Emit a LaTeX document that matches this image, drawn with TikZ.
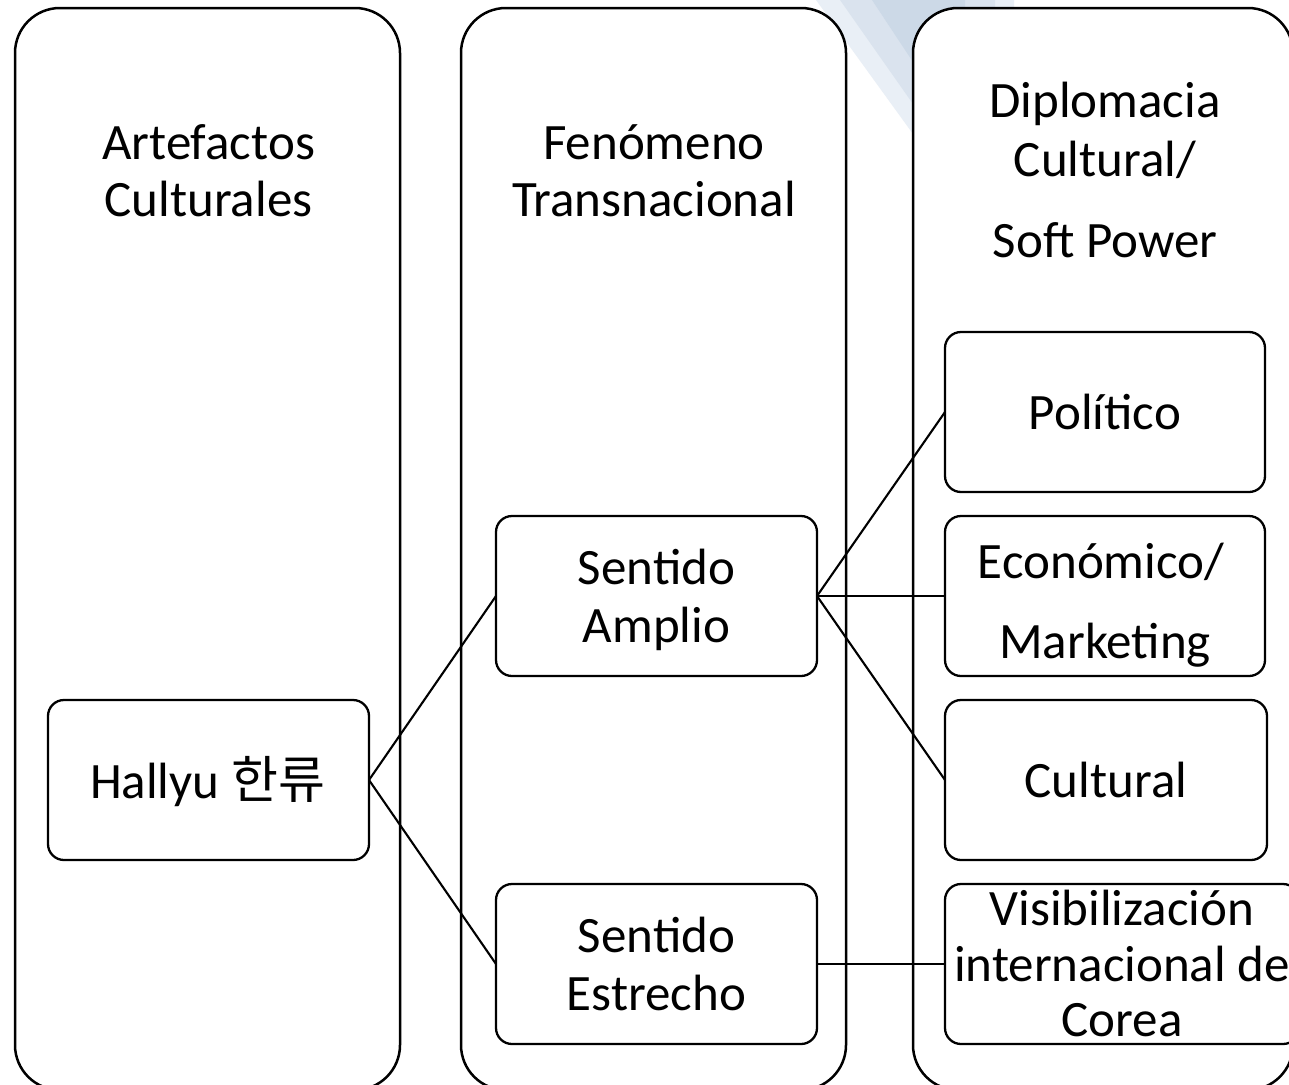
\documentclass[tikz,border=0pt]{standalone}
\usepackage{fontspec}
\setmainfont{Carlito}
\newfontfamily\krfont{Noto Sans CJK KR}
\definecolor{bgA}{HTML}{E9EFF6}
\definecolor{bgB}{HTML}{DAE3EE}
\definecolor{bgC}{HTML}{CCD9E7}
\begin{document}
\begin{tikzpicture}[x=1pt,y=-1pt,
 colbox/.style={draw=black, line width=2.5pt, fill=white, rounded corners=45pt, minimum width=385pt, minimum height=1082pt, inner sep=0pt, outer sep=0pt},
 itembox/.style={draw=black, line width=2.3pt, fill=white, rounded corners=16pt, minimum width=321pt, minimum height=160pt, inner sep=0pt, outer sep=0pt},
 txt/.style={anchor=base, inner sep=0pt, font=\fontsize{51}{57}\selectfont},
 link/.style={draw=black, line width=2.1pt}]
\useasboundingbox (0,0) rectangle (1289,1084);
\clip (0,0) rectangle (1289,1084);
\fill[white] (0,0) rectangle (1289,1084);
% background swoosh
\fill[bgA] (816,0) -- (1014,0) -- (1014,230) -- (913,134) -- cycle;
\fill[bgB] (840,0) -- (995,0) -- (995,210) -- (913,104) -- cycle;
\fill[bgC] (872,0) -- (965,0) -- (965,150) -- (913,62) -- cycle;
% columns
\node[colbox] (c1) at (207.5,549) {};
\node[colbox] (c2) at (653.5,549) {};
\node[colbox, minimum width=380pt] (c3) at (1103,549) {};
% boxes
\node[itembox] (hal) at (208.5,780) {};
\node[itembox] (amp) at (656.5,596) {};
\node[itembox] (est) at (656.5,964) {};
\node[itembox, minimum width=320pt] (pol) at (1105,412) {};
\node[itembox, minimum width=320pt] (eco) at (1105,596) {};
\node[itembox, minimum width=322pt] (cul) at (1106,780) {};
\node[itembox, minimum width=354pt] (vis) at (1122,964) {};
% connectors
\draw[link] (hal.east) -- (amp.west);
\draw[link] (hal.east) -- (est.west);
\draw[link] (amp.east) -- (pol.west);
\draw[link] (amp.east) -- (eco.west);
\draw[link] (amp.east) -- (cul.west);
\draw[link] (est.east) -- (vis.west);
% headings
\node[txt] (t1a) at (208.5,159) {Artefactos};
\node[txt] (t1b) at (208.5,216) {Culturales};
\node[txt] (t2a) at (654,159) {Fenómeno};
\node[txt] (t2b) at (654,216) {Transnacional};
\node[txt] (t3a) at (1105,117) {Diplomacia};
\node[txt] (t3b) at (1105,176) {Cultural/};
\node[txt] (t3c) at (1105,257) {Soft Power};
% box texts
\node[txt] (thal) at (207.5,798) {Hallyu {\krfont 한류}};
\node[txt] (tamp1) at (656.5,584) {Sentido};
\node[txt] (tamp2) at (656.5,642) {Amplio};
\node[txt] (test1) at (656.5,952) {Sentido};
\node[txt] (test2) at (656.5,1010) {Estrecho};
\node[txt] (tpol) at (1105,429) {Político};
\node[txt] (teco1) at (1101,578) {Económico/};
\node[txt] (teco2) at (1105,658) {Marketing};
\node[txt] (tcul) at (1106,797) {Cultural};
\node[txt] (tvis1) at (1122,925) {Visibilización};
\node[txt] (tvis2) at (1122,981) {internacional de};
\node[txt] (tvis3) at (1122,1036) {Corea};
\end{tikzpicture}
\end{document}
